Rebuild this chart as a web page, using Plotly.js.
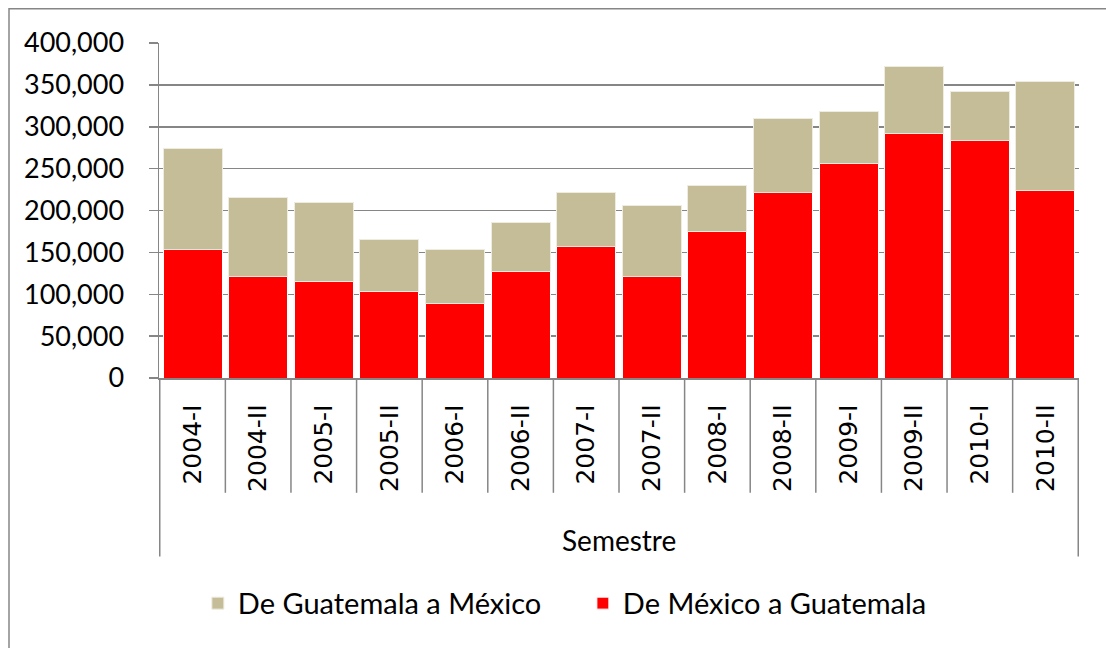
<!DOCTYPE html>
<html>
<head>
<meta charset="utf-8">
<script src="https://cdn.plot.ly/plotly-3.0.1.min.js"></script>
<style>html,body{margin:0;padding:0;background:#fff;}#chart{width:1106px;height:648px;}</style>
</head>
<body>
<div id="chart"></div>
<script>
const semestres = ['2004-I','2004-II','2005-I','2005-II','2006-I','2006-II','2007-I','2007-II','2008-I','2008-II','2009-I','2009-II','2010-I','2010-II'];
const deMexicoAGuatemala = [153300,121300,115300,103700,88800,126900,156500,121300,174500,221300,256500,292200,283000,224100];
const deGuatemalaAMexico = [120900,94000,94400,61600,64500,59100,64800,85200,55600,88400,61600,79200,58800,129700];
const axisTitle = 'Semestre';

const gray = '#868686';
const traces = [
  {type:'bar', name:'De México a Guatemala', x:semestres, y:deMexicoAGuatemala,
   marker:{color:'#FF0000', line:{color:'#ffffff', width:1}}},
  {type:'bar', name:'De Guatemala a México', x:semestres, y:deGuatemalaAMexico,
   marker:{color:'#C4BD97', line:{color:'#EEECE1', width:1}}}
];

const H = 334.4;
const shapes = [];
for (let i = 0; i <= semestres.length; i++) {
  const outer = (i === 0 || i === semestres.length);
  shapes.push({type:'line', xref:'x', yref:'paper', x0:i-0.5, x1:i-0.5, y0:0,
    y1: outer ? -(556-377.7)/H : -(492.3-377.7)/H, line:{color:gray, width:1.5}});
}
// chart-area border (left and top visible)
shapes.push({type:'rect', xref:'paper', yref:'paper', x0:(9-159)/920, x1:1.2, y0:-1.2, y1:1+(43.3-9)/H,
  line:{color:gray, width:1.5}, fillcolor:'rgba(0,0,0,0)', layer:'below'});

const layout = {
  width:1106, height:648,
  margin:{l:159, r:27, t:43.3, b:270.3, pad:0},
  paper_bgcolor:'#ffffff', plot_bgcolor:'#ffffff',
  barmode:'stack', bargap:0.1,
  font:{family:'Lato, sans-serif', color:'#000'},
  xaxis:{type:'category', showline:true, linecolor:gray, linewidth:1.5, ticks:'',
    tickangle:-90, tickfont:{family:'DejaVu Sans', size:25, color:'#000'}, showgrid:false, ticklabelstandoff:15},
  yaxis:{range:[0,400000], dtick:50000, tickformat:',', showline:true, linecolor:gray, linewidth:1.5,
    ticks:'outside', ticklen:9, tickcolor:gray, tickwidth:1.5, showgrid:true, gridcolor:gray, gridwidth:1.5,
    zeroline:false, tickfont:{family:'Lato', size:27, color:'#000'}, ticklabelstandoff:19},
  legend:{orientation:'h', traceorder:'reversed', xref:'container', yref:'container', x:0.527, xanchor:'center',
    y:0.069, yanchor:'middle', entrywidth:340, itemwidth:30, font:{family:'Lato', size:29, color:'#000'}},
  shapes:shapes,
  annotations:[{text:axisTitle, xref:'paper', yref:'paper', x:0.5, y:-(539-377.7)/H, xanchor:'center', yanchor:'middle',
    showarrow:false, font:{family:'Lato', size:28, color:'#000'}}]
};
Plotly.newPlot('chart', traces, layout, {staticPlot:true, displayModeBar:false});
</script>
</body>
</html>
